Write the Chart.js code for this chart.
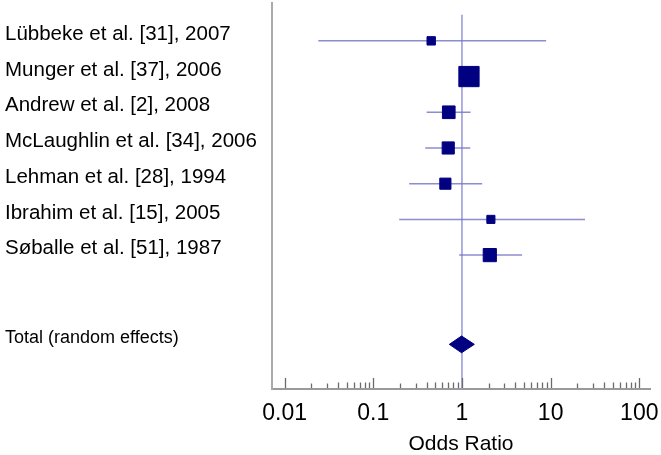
<!DOCTYPE html>
<html>
<head>
<meta charset="utf-8">
<script src="https://cdn.jsdelivr.net/npm/chart.js@4.4.1/dist/chart.umd.min.js"></script>
<style>
  html, body { margin: 0; padding: 0; background: #fff; }
  #wrap { width: 661px; height: 455px; position: relative; }
</style>
</head>
<body>
<div id="wrap"><canvas id="forest"></canvas></div>
<script>
const studies = [
    'Lübbeke et al. [31], 2007',
    'Munger et al. [37], 2006',
    'Andrew et al. [2], 2008',
    'McLaughlin et al. [34], 2006',
    'Lehman et al. [28], 1994',
    'Ibrahim et al. [15], 2005',
    'Søballe et al. [51], 1987'
];
const oddsRatio = [0.45, 1.20, 0.71, 0.70, 0.65, 2.12, 2.06];
const ciLower = [0.024, 1.02, 0.40, 0.385, 0.254, 0.196, 0.93];
const ciUpper = [8.9, 1.40, 1.25, 1.24, 1.69, 24.4, 4.77];
const weights = [6.1, 35.6, 13.9, 12.8, 10.8, 5.7, 15.1];   // % weight, square area
const rows = [0, 1, 2, 3, 4, 5, 6];

const totalLabel = 'Total (random effects)';
const totalOR = 0.99;
const totalLower = 0.72;
const totalUpper = 1.38;
const totalRow = 8.5;

const xDecades = [0.01, 0.1, 1, 10, 100];
const xTickLabels = ['0.01', '0.1', '1', '10', '100'];
const nullValue = 1;

const yTop = -1.06, yBottom = 9.75;
const navy = '#000080';
const ciColor = 'rgba(120,120,200,0.85)';

Chart.defaults.font.family = "'Liberation Sans', Arial, sans-serif";
Chart.defaults.color = '#000';

// small tick marks pointing up from the x axis
const tickMarks = {
    id: 'tickMarks',
    afterDraw(chart) {
        const scale = chart.scales.x;
        const c = chart.ctx;
        const y0 = chart.chartArea.bottom;
        c.save();
        c.strokeStyle = '#6a6a6a';
        c.lineWidth = 1.3;
        scale.ticks.forEach(t => {
            const px = Math.round(scale.getPixelForValue(t.value)) + 0.5;
            const len = t.major ? 11 : (t.mult <= 3 ? 5.5 : 6.5);
            c.beginPath();
            c.moveTo(px, y0 - 1);
            c.lineTo(px, y0 - len);
            c.stroke();
        });
        c.restore();
    }
};

const datasets = [];

// line of no effect
datasets.push({
    data: [{ x: nullValue, y: -0.73 }, { x: nullValue, y: yBottom }],
    showLine: true, borderColor: 'rgba(160,160,220,0.9)', borderWidth: 1,
    pointRadius: 0, order: 4
});

for (let i = 0; i < studies.length; i++) {
    datasets.push({
        data: [{ x: ciLower[i], y: rows[i] }, { x: ciUpper[i], y: rows[i] }],
        showLine: true, borderColor: ciColor, borderWidth: 1.5,
        pointRadius: 0, order: 3
    });
}

datasets.push({
    data: oddsRatio.map((v, i) => ({ x: v, y: rows[i] })),
    showLine: false,
    pointStyle: 'rect',
    pointRadius: weights.map(w => Math.sqrt(w) * 2.4),
    backgroundColor: navy, borderColor: navy, borderWidth: 1,
    order: 1
});

// pooled estimate diamond
datasets.push({
    data: [
        { x: totalLower, y: totalRow },
        { x: totalOR, y: totalRow - 0.235 },
        { x: totalUpper, y: totalRow },
        { x: totalOR, y: totalRow + 0.235 },
        { x: totalLower, y: totalRow }
    ],
    showLine: true, fill: 'shape', tension: 0,
    borderColor: navy, backgroundColor: navy, borderWidth: 1,
    pointRadius: 0, order: 2
});

new Chart(document.getElementById('forest'), {
    type: 'scatter',
    data: { datasets: datasets },
    plugins: [tickMarks],
    options: {
        responsive: true,
        maintainAspectRatio: false,
        animation: false,
        layout: { autoPadding: false, padding: { left: 5, top: 3, right: 11, bottom: 0 } },
        plugins: { legend: { display: false }, tooltip: { enabled: false } },
        scales: {
            x: {
                type: 'logarithmic',
                min: 0.00721,
                max: 132,
                grid: { display: false },
                border: { display: true, color: '#9a9a9a', width: 2 },
                afterBuildTicks: (scale) => {
                    const t = [];
                    xDecades.forEach((d, k) => {
                        const n = k < xDecades.length - 1 ? 9 : 1;
                        for (let m = 1; m <= n; m++) t.push({ value: d * m, major: m === 1, mult: m });
                    });
                    scale.ticks = t;
                },
                afterFit: (scale) => {
                    scale.height = 66;
                    scale.paddingLeft = 0;
                    scale.paddingRight = 0;
                },
                ticks: {
                    autoSkip: false, maxRotation: 0, minRotation: 0,
                    padding: 3,
                    font: { size: 23 },
                    callback: (v, i, t) => t[i].major ? xTickLabels[xDecades.indexOf(v)] : ''
                },
                title: {
                    display: true, text: 'Odds Ratio',
                    font: { size: 21, lineHeight: 1 },
                    padding: { top: 0, bottom: 0 }
                }
            },
            y: {
                type: 'linear',
                reverse: true,
                min: yTop,
                max: yBottom,
                grid: { display: false },
                border: { display: true, color: '#aaaaaa', width: 2 },
                afterBuildTicks: (scale) => {
                    scale.ticks = rows.concat([totalRow]).map(v => ({ value: v }));
                },
                afterFit: (scale) => {
                    scale.width = 267;
                    scale.paddingTop = 0;
                    scale.paddingBottom = 0;
                },
                ticks: {
                    autoSkip: false,
                    crossAlign: 'far',
                    padding: 0,
                    labelOffset: -6.5,
                    font: (ctx) => ctx.tick && ctx.tick.value === totalRow ? { size: 18 } : { size: 20.5 },
                    callback: (v) => v === totalRow ? totalLabel : studies[rows.indexOf(v)]
                }
            }
        }
    }
});
</script>
</body>
</html>
